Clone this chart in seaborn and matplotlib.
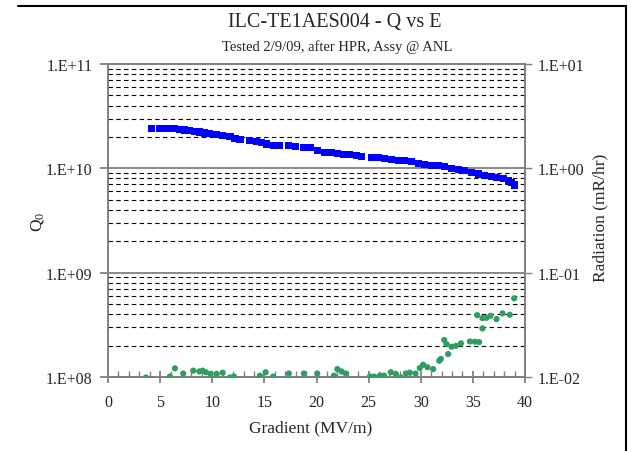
import matplotlib
matplotlib.use("Agg")
import matplotlib.pyplot as plt
import seaborn as sns
import pandas as pd
from matplotlib.ticker import FixedLocator, FuncFormatter, MultipleLocator, NullLocator
from matplotlib.lines import Line2D

# ---- data ----
gradient_q = [4.19, 4.99, 5.47, 5.94, 6.42, 6.90, 7.38, 7.86, 8.34, 8.82, 9.30, 9.78,
              10.42, 11.00, 11.70, 12.18, 12.66, 13.61, 14.26, 14.74, 15.22, 15.85,
              16.49, 17.29, 18.02, 18.79, 19.43, 20.11, 20.81, 21.45, 21.98, 22.56,
              23.20, 23.84, 24.32, 25.28, 25.92, 26.56, 27.20, 27.83, 28.48, 29.12,
              29.75, 30.39, 31.04, 31.67, 32.31, 32.95, 33.59, 34.23, 34.87, 35.50,
              36.15, 36.79, 37.27, 37.90, 38.38, 38.71, 39.02]
q0 = [2.43e10, 2.43e10, 2.43e10, 2.43e10, 2.40e10, 2.37e10, 2.33e10, 2.29e10, 2.26e10,
      2.23e10, 2.18e10, 2.17e10, 2.13e10, 2.07e10, 2.01e10, 1.95e10, 1.90e10, 1.84e10,
      1.79e10, 1.76e10, 1.71e10, 1.67e10, 1.67e10, 1.65e10, 1.63e10, 1.59e10, 1.57e10,
      1.48e10, 1.43e10, 1.41e10, 1.39e10, 1.37e10, 1.35e10, 1.32e10, 1.30e10, 1.28e10,
      1.26e10, 1.24e10, 1.22e10, 1.20e10, 1.18e10, 1.16e10, 1.12e10, 1.09e10, 1.06e10,
      1.06e10, 1.035e10, 1.006e10, 9.78e9, 9.48e9, 9.16e9, 8.82e9, 8.57e9, 8.31e9,
      8.13e9, 8.02e9, 7.67e9, 7.34e9, 6.92e9]

gradient_rad = [3.64, 5.94, 6.42, 7.22, 8.18, 8.76, 9.08, 9.40, 9.85, 10.42, 11.00, 11.70,
                12.08, 14.57, 15.12, 15.85, 17.35, 18.79, 20.07, 21.67, 22.00, 22.40,
                22.80, 25.12, 25.53, 26.08, 26.49, 27.13, 27.61, 28.09, 28.57, 28.95,
                29.50, 29.91, 30.23, 30.65, 31.19, 31.77, 31.93, 32.25, 32.47, 32.63,
                32.95, 33.37, 33.85, 34.71, 35.19, 35.41, 35.60, 35.92, 35.92, 36.31,
                36.69, 37.27, 37.84, 38.54, 38.96]
radiation = [0.0099, 0.0101, 0.0121, 0.0108, 0.0115, 0.0113, 0.0115, 0.0111, 0.0107,
             0.0107, 0.0110, 0.0099, 0.0101, 0.0103, 0.0111, 0.0101, 0.0108, 0.0108,
             0.0108, 0.0103, 0.0119, 0.0113, 0.0108, 0.0101, 0.0101, 0.0103, 0.0103,
             0.0111, 0.0107, 0.0099, 0.0108, 0.0110, 0.0108, 0.0122, 0.0131, 0.0124,
             0.0119, 0.0143, 0.0149, 0.0226, 0.0207, 0.0166, 0.0195, 0.0199, 0.0210,
             0.0219, 0.0218, 0.0392, 0.0216, 0.0292, 0.0367, 0.0369, 0.0386, 0.0359,
             0.0407, 0.0395, 0.0568]

q_ticks = [1e8, 1e9, 1e10, 1e11]
q_tick_labels = ["1.E+08", "1.E+09", "1.E+10", "1.E+11"]
r_ticks = [1e-2, 1e-1, 1e0, 1e1]
r_tick_labels = ["1.E-02", "1.E-01", "1.E+00", "1.E+01"]

title = "ILC-TE1AES004 - Q vs E"
subtitle = "Tested 2/9/09, after HPR, Assy @ ANL"
xlabel = "Gradient (MV/m)"
ylabel_left = "Q$_0$"
ylabel_right = "Radiation (mR/hr)"

# ---- style ----
sns.set_style("white")
plt.rcParams['font.family'] = ['Liberation Serif', 'DejaVu Serif']
plt.rcParams['mathtext.fontset'] = 'custom'
plt.rcParams['mathtext.rm'] = 'Liberation Serif'
plt.rcParams['mathtext.it'] = 'Liberation Serif'

GRAY = "#808080"
W, H = 631, 452
fig = plt.figure(figsize=(W / 100, H / 100), dpi=100)
fig.patch.set_facecolor("white")

L, R, T, B = 108, 525, 65, 378
ax = fig.add_axes([L / W, 1 - B / H, (R - L) / W, (B - T) / H])
ax.set_yscale("log")
ax.set_xlim(0, 40)
ax.set_ylim(q_ticks[0], q_ticks[-1])

# gridlines: dashed minor, solid major
for dec in q_ticks[:-1]:
    for m in range(2, 10):
        ax.axhline(dec * m, color="black", lw=0.8, ls=(0, (4, 3)), zorder=1)
for dec in q_ticks[1:-1]:
    ax.axhline(dec, color=GRAY, lw=1.3, zorder=1)

df_q = pd.DataFrame({"Gradient": gradient_q, "Q0": q0})
sns.scatterplot(data=df_q, x="Gradient", y="Q0", ax=ax, marker="s", color="#0000FF",
                s=26, edgecolor="none", linewidth=0, zorder=3, legend=False)

for s in ax.spines.values():
    s.set_color(GRAY)
    s.set_linewidth(1.3)

ax.yaxis.set_major_locator(FixedLocator(q_ticks))
ax.yaxis.set_minor_locator(NullLocator())
ax.set_yticklabels(q_tick_labels)
ax.tick_params(axis="y", which="major", direction="out", length=6, width=1.3,
               color=GRAY, labelsize=11.5, pad=5, left=True)
ax.xaxis.set_major_locator(MultipleLocator(5))
ax.xaxis.set_minor_locator(MultipleLocator(1))
ax.tick_params(axis="x", which="major", direction="inout", length=9, width=1.3,
               color=GRAY, labelsize=11.5, pad=8, bottom=True)
ax.tick_params(axis="x", which="minor", direction="in", length=4, width=1.0,
               color=GRAY, bottom=True)
ax.set_xlabel("")
ax.set_ylabel("")

ax2 = ax.twinx()
ax2.set_yscale("log")
ax2.set_ylim(r_ticks[0], r_ticks[-1])
df_r = pd.DataFrame({"Gradient": gradient_rad, "Radiation": radiation})
sns.scatterplot(data=df_r, x="Gradient", y="Radiation", ax=ax2, marker="o",
                color="#2E9D62", s=20, edgecolor="none", linewidth=0, zorder=3,
                legend=False)
ax2.set_xlim(0, 40)
ax2.yaxis.set_major_locator(FixedLocator(r_ticks))
ax2.yaxis.set_minor_locator(NullLocator())
ax2.set_yticklabels(r_tick_labels)
ax2.tick_params(axis="y", which="major", direction="out", length=5, width=1.0,
                color=GRAY, labelsize=11.5, pad=4, right=True)
ax2.set_ylabel("")
ax2.set_xlabel("")
for s in ax2.spines.values():
    s.set_color(GRAY)
    s.set_linewidth(1.3)

# texts
fig.text(335 / W, 1 - 22 / H, title, ha="center", va="center", fontsize=14.5)
fig.text(337 / W, 1 - 47 / H, subtitle, ha="center", va="center", fontsize=10.5)
fig.text(311 / W, 1 - 428 / H, xlabel, ha="center", va="center", fontsize=12.5)
fig.text(38 / W, 1 - 222 / H, ylabel_left, ha="center", va="center", fontsize=12.5,
         rotation=90)
fig.text(600 / W, 1 - 218 / H, ylabel_right, ha="center", va="center", fontsize=12.5,
         rotation=90)

# outer frame (top and right edges)
fig.add_artist(Line2D([18 / W, 626 / W], [1 - 7 / H, 1 - 7 / H], color="black", lw=1.5,
                      transform=fig.transFigure))
fig.add_artist(Line2D([626 / W, 626 / W], [1 - 7 / H, 0], color="black", lw=1.5,
                      transform=fig.transFigure))

fig.savefig("out.png", dpi=100)
